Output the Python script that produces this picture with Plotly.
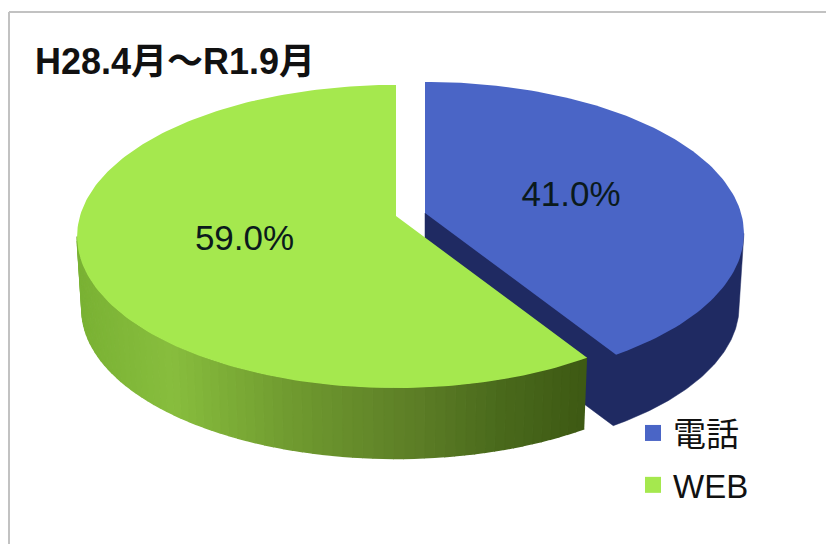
import numpy as np
import plotly.graph_objects as go

# ---- data ----
categories = ["電話", "WEB"]
values = [41.0, 59.0]
title_text = "H28.4月～R1.9月"

# ---- styles / projection ----
FONT = "Liberation Sans, Noto Sans CJK JP, sans-serif"
TOP_COLORS = ["#4a65c6", "#a5e84e"]
WALL_BLUE = "#1f2a62"
APEX = [(425, 213), (396, 216)]
RX, RY, K = 316, 148.8, 0.135
DEPTH, BOTTOM_SCALE = 73, 0.985
LABEL_DY = 4.5
GRAD_X = [78, 170, 290, 420, 500, 583]
GRAD_RGB = [(122, 178, 52), (136, 190, 62), (112, 155, 48), (92, 125, 38), (74, 106, 28), (62, 90, 20)]


def project(theta_deg, apex, r=1.0, lower=False):
    t = np.radians(np.asarray(theta_deg, dtype=float))
    sx, sy = r * np.sin(t), r * np.cos(t)
    w = 1 + K * sy
    s = BOTTOM_SCALE if lower else 1.0
    return apex[0] + s * RX * sx / w, apex[1] + (DEPTH if lower else 0) - s * RY * sy / w


edges = np.concatenate([[0], np.cumsum(values)]) * 360 / sum(values)
blue_start, blue_end = edges[0], edges[1]
green_start, green_end = edges[1], edges[2]
# angles at which the rim reaches its horizontal extremes: walls are only visible in front of them
silhouette_right = np.degrees(np.arccos(-K))
silhouette_left = 360 - silhouette_right

fig = go.Figure()


def poly(x, y, color, width=0.0):
    fig.add_trace(go.Scatter(x=list(x), y=list(y), mode="lines", fill="toself", fillcolor=color,
                             line=dict(color=color, width=width), hoverinfo="skip", showlegend=False))


# blue slice: outer and cut walls as one outline, then top face on top of it
th = np.linspace(silhouette_right, blue_end, 81)
sil_x, sil_y = project(silhouette_right, APEX[0])
bx, by = project(th, APEX[0], lower=True)
ax, ay = APEX[0]
poly(np.r_[ax, sil_x, bx, ax, ax], np.r_[ay, sil_y, by, ay + DEPTH, ay], WALL_BLUE, 0.5)
th = np.linspace(blue_start, blue_end, 121)
tx, ty = project(th, APEX[0])
poly(np.r_[ax, tx, ax], np.r_[ay, ty, ay], TOP_COLORS[0])

# green slice: shaded wall then top face
steps = np.linspace(green_start, silhouette_left, 71)
for a, b in zip(steps[:-1], steps[1:]):
    t2 = [a, b]
    qx, qy = project(t2, APEX[1])
    rx, ry = project(t2[::-1], APEX[1], lower=True)
    mx = (qx[0] + qx[1]) / 2
    rgb = [int(np.interp(mx, GRAD_X, [c[i] for c in GRAD_RGB])) for i in range(3)]
    color = f"rgb({rgb[0]},{rgb[1]},{rgb[2]})"
    poly(np.r_[qx, rx], np.r_[qy, ry], color, 1.5)
th = np.linspace(green_start, green_end, 181)
tx, ty = project(th, APEX[1])
ax, ay = APEX[1]
poly(np.r_[ax, tx, ax], np.r_[ay, ty, ay], TOP_COLORS[1])

# percentage labels at the slice mid-angles
mids = (edges[:-1] + edges[1:]) / 2
lab = [project(m, a, r=0.49) for m, a in zip(mids, APEX)]
fig.add_trace(go.Scatter(x=[p[0] for p in lab], y=[p[1] + LABEL_DY for p in lab], mode="text",
                         text=[f"{v:.1f}%" for v in values], textposition="middle center",
                         textfont=dict(family=FONT, size=35, color="#0b1a1c"),
                         hoverinfo="skip", showlegend=False))

# legend entries
for name, color in zip(categories, TOP_COLORS):
    fig.add_trace(go.Scatter(x=[None], y=[None], mode="markers", name=name, legendgroup=name,
                             marker=dict(symbol="square", size=17, color=color)))

fig.update_layout(
    width=826, height=544, margin=dict(l=0, r=0, t=0, b=0),
    paper_bgcolor="white", plot_bgcolor="white",
    xaxis=dict(range=[0, 826], visible=False, fixedrange=True),
    yaxis=dict(range=[544, 0], visible=False, fixedrange=True),
    title=dict(text=title_text, x=35 / 826, xanchor="left", y=1 - 61 / 544, yanchor="middle",
               font=dict(family=FONT, size=36, color="#111111", weight="bold")),
    legend=dict(x=633 / 826, y=1 - 405 / 544, xanchor="left", yanchor="top", bgcolor="rgba(0,0,0,0)",
                font=dict(family=FONT, size=33, color="#111111"), itemsizing="trace",
                traceorder="grouped", tracegroupgap=6),
    shapes=[dict(type="line", xref="x", yref="y", x0=9, x1=9, y0=12, y1=544,
                 line=dict(color="#c2c2c2", width=2)),
            dict(type="line", xref="x", yref="y", x0=9, x1=826, y0=12, y1=12,
                 line=dict(color="#c2c2c2", width=2))],
)
fig.write_html("out.html", config=dict(displayModeBar=False),
               post_script="document.body.style.margin='0';document.body.style.overflow='hidden';")
